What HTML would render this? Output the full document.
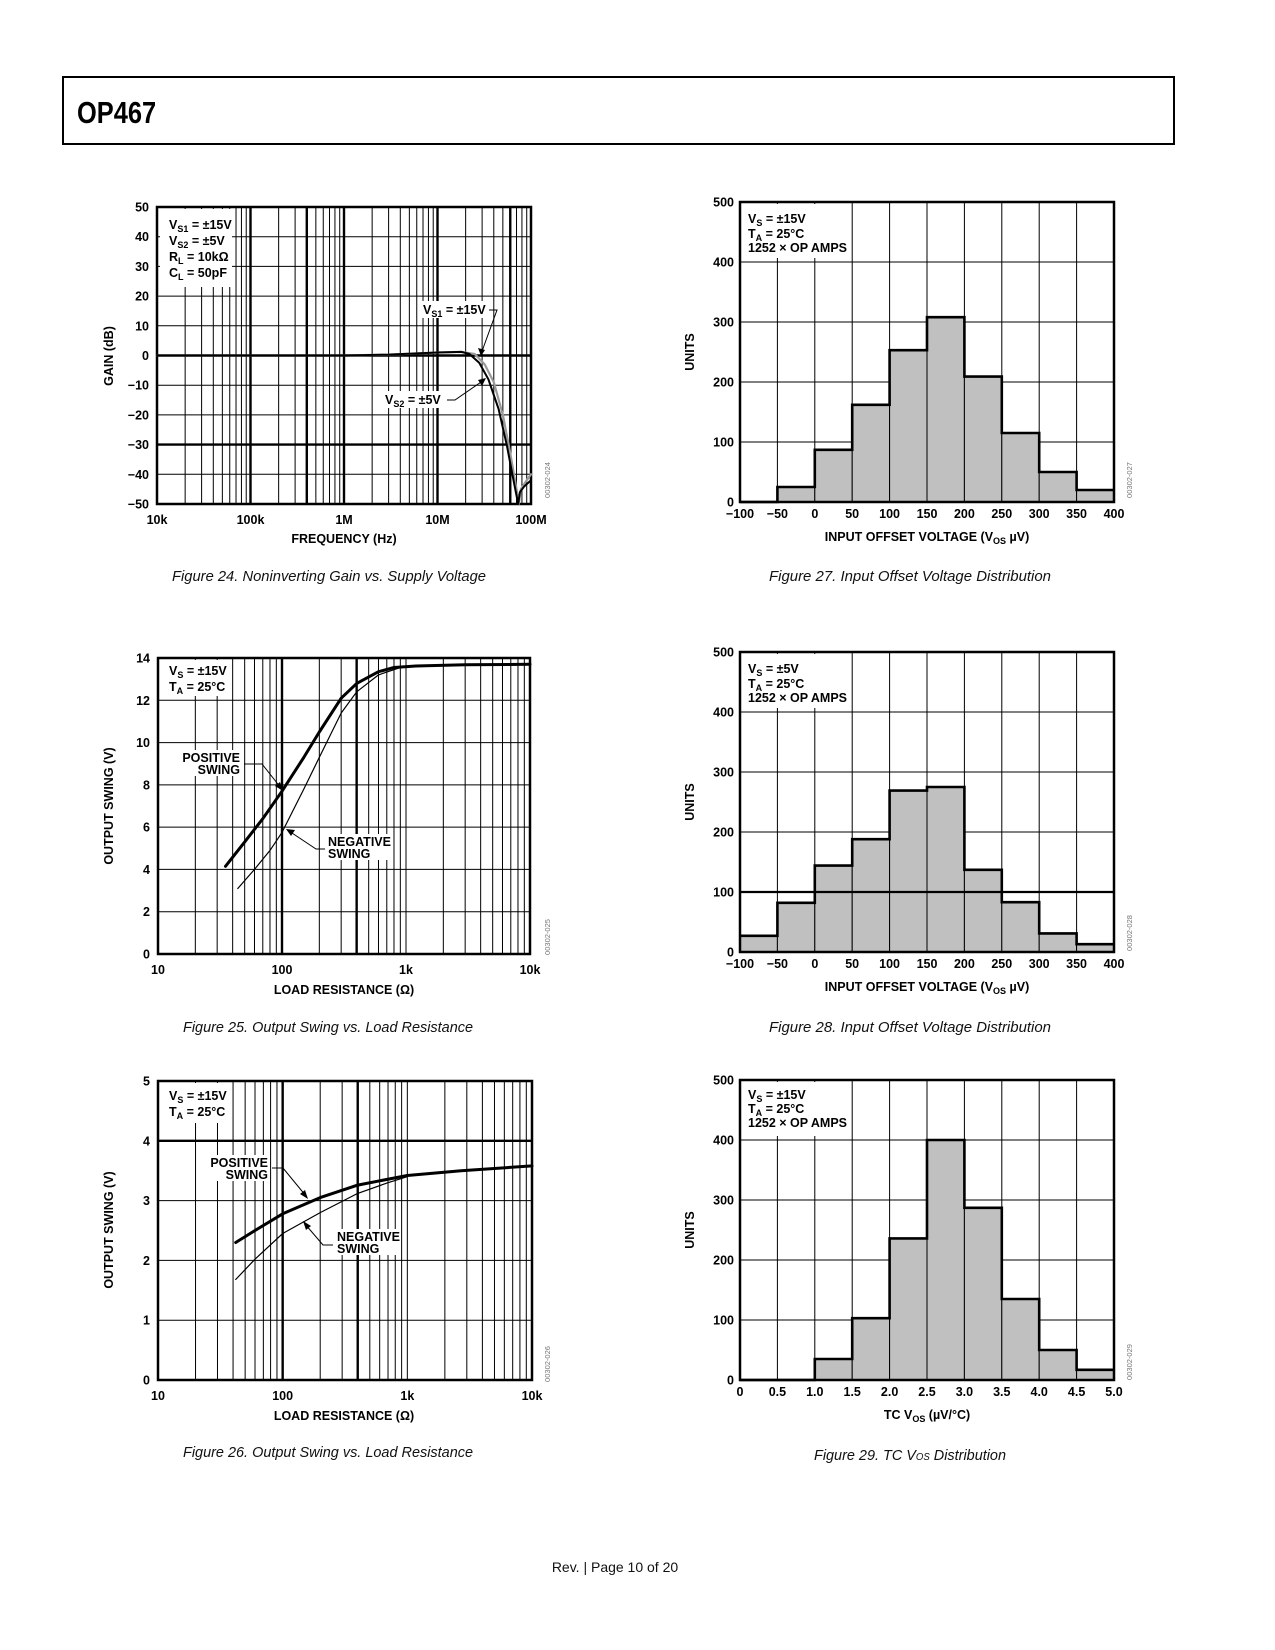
<!DOCTYPE html>
<html><head><meta charset="utf-8"><title>OP467 page 10</title>
<style>
html,body{margin:0;padding:0;background:#fff;}
svg{display:block;font-family:"Liberation Sans",Arial,sans-serif;}
.t{font-weight:bold;font-size:12.5px;fill:#000;}
.cap{font-style:italic;font-size:15px;fill:#111;}
.id{font-size:7.5px;fill:#777;}
</style></head>
<body>
<svg id="page" width="1275" height="1650" viewBox="0 0 1275 1650" xmlns="http://www.w3.org/2000/svg">
<rect x="0" y="0" width="1275" height="1650" fill="#fff"/>
<rect x="63" y="77" width="1111" height="67" fill="none" stroke="#000" stroke-width="2"/>
<text x="77" y="123" font-size="31" font-weight="bold" transform="translate(77 0) scale(0.82 1) translate(-77 0)">OP467</text>

<g id="c1"></g>
<g id="c2"></g>
<g id="c3"></g>
<g id="h1"></g>
<g id="h2"></g>
<g id="h3"></g>

<g id="annot">
  <rect x="160" y="209" width="72" height="78" fill="#fff"/>
  <text class="t" x="169" y="229">V<tspan font-size="9" dy="3">S1</tspan><tspan dy="-3"> = ±15V</tspan></text>
  <text class="t" x="169" y="245">V<tspan font-size="9" dy="3">S2</tspan><tspan dy="-3"> = ±5V</tspan></text>
  <text class="t" x="169" y="261">R<tspan font-size="9" dy="3">L</tspan><tspan dy="-3"> = 10kΩ</tspan></text>
  <text class="t" x="169" y="277">C<tspan font-size="9" dy="3">L</tspan><tspan dy="-3"> = 50pF</tspan></text>
  <rect x="420" y="301" width="67" height="17" fill="#fff"/>
  <text class="t" x="423" y="314">V<tspan font-size="9" dy="3">S1</tspan><tspan dy="-3"> = ±15V</tspan></text>
  <polyline points="489,310 497,310 481,354" fill="none" stroke="#000" stroke-width="1"/>
  <polygon points="481,356 478,348 485,350" fill="#000"/>
  <rect x="382" y="391" width="63" height="17" fill="#fff"/>
  <text class="t" x="385" y="404">V<tspan font-size="9" dy="3">S2</tspan><tspan dy="-3"> = ±5V</tspan></text>
  <polyline points="447,400 455,400 484,380" fill="none" stroke="#000" stroke-width="1"/>
  <polygon points="486,378 478,380 482,386" fill="#000"/>

  <rect x="160" y="660" width="68" height="36" fill="#fff"/>
  <text class="t" x="169" y="675">V<tspan font-size="9" dy="3">S</tspan><tspan dy="-3"> = ±15V</tspan></text>
  <text class="t" x="169" y="691">T<tspan font-size="9" dy="3">A</tspan><tspan dy="-3"> = 25°C</tspan></text>
  <rect x="180" y="750" width="62" height="26" fill="#fff"/>
  <text class="t" x="240" y="762" text-anchor="end">POSITIVE</text>
  <text class="t" x="240" y="774" text-anchor="end">SWING</text>
  <polyline points="244,764 262,764 281,788" fill="none" stroke="#000" stroke-width="1"/>
  <polygon points="283,791 275,786 280,782" fill="#000"/>
  <rect x="327" y="834" width="64" height="26" fill="#fff"/>
  <text class="t" x="328" y="846">NEGATIVE</text>
  <text class="t" x="328" y="858">SWING</text>
  <polyline points="325,849 316,849 289,831" fill="none" stroke="#000" stroke-width="1"/>
  <polygon points="286,829 295,830 291,836" fill="#000"/>

  <rect x="160" y="1083" width="68" height="40" fill="#fff"/>
  <text class="t" x="169" y="1100">V<tspan font-size="9" dy="3">S</tspan><tspan dy="-3"> = ±15V</tspan></text>
  <text class="t" x="169" y="1116">T<tspan font-size="9" dy="3">A</tspan><tspan dy="-3"> = 25°C</tspan></text>
  <rect x="208" y="1155" width="62" height="26" fill="#fff"/>
  <text class="t" x="268" y="1167" text-anchor="end">POSITIVE</text>
  <text class="t" x="268" y="1179" text-anchor="end">SWING</text>
  <polyline points="272,1168 283,1168 306,1196" fill="none" stroke="#000" stroke-width="1"/>
  <polygon points="308,1199 300,1194 305,1190" fill="#000"/>
  <rect x="336" y="1229" width="64" height="26" fill="#fff"/>
  <text class="t" x="337" y="1241">NEGATIVE</text>
  <text class="t" x="337" y="1253">SWING</text>
  <polyline points="333,1245 323,1245 305,1224" fill="none" stroke="#000" stroke-width="1"/>
  <polygon points="303,1221 311,1226 306,1230" fill="#000"/>

  <rect x="742" y="204" width="108" height="54" fill="#fff"/>
  <text class="t" x="748" y="223">V<tspan font-size="9" dy="3">S</tspan><tspan dy="-3"> = ±15V</tspan></text>
  <text class="t" x="748" y="238">T<tspan font-size="9" dy="3">A</tspan><tspan dy="-3"> = 25°C</tspan></text>
  <text class="t" x="748" y="252">1252 × OP AMPS</text>
  <rect x="742" y="654" width="108" height="54" fill="#fff"/>
  <text class="t" x="748" y="673">V<tspan font-size="9" dy="3">S</tspan><tspan dy="-3"> = ±5V</tspan></text>
  <text class="t" x="748" y="688">T<tspan font-size="9" dy="3">A</tspan><tspan dy="-3"> = 25°C</tspan></text>
  <text class="t" x="748" y="702">1252 × OP AMPS</text>
  <rect x="742" y="1082" width="108" height="54" fill="#fff"/>
  <text class="t" x="748" y="1099">V<tspan font-size="9" dy="3">S</tspan><tspan dy="-3"> = ±15V</tspan></text>
  <text class="t" x="748" y="1113">T<tspan font-size="9" dy="3">A</tspan><tspan dy="-3"> = 25°C</tspan></text>
  <text class="t" x="748" y="1127">1252 × OP AMPS</text>

  <text class="t" x="344" y="543" text-anchor="middle">FREQUENCY (Hz)</text>
  <text class="t" transform="translate(113 356) rotate(-90)" text-anchor="middle">GAIN (dB)</text>
  <text class="t" x="344" y="994" text-anchor="middle">LOAD RESISTANCE (Ω)</text>
  <text class="t" transform="translate(113 806) rotate(-90)" text-anchor="middle">OUTPUT SWING (V)</text>
  <text class="t" x="344" y="1420" text-anchor="middle">LOAD RESISTANCE (Ω)</text>
  <text class="t" transform="translate(113 1230) rotate(-90)" text-anchor="middle">OUTPUT SWING (V)</text>
  <text class="t" x="927" y="541" text-anchor="middle">INPUT OFFSET VOLTAGE (V<tspan font-size="9" dy="3">OS</tspan><tspan dy="-3"> µV)</tspan></text>
  <text class="t" transform="translate(694 352) rotate(-90)" text-anchor="middle">UNITS</text>
  <text class="t" x="927" y="991" text-anchor="middle">INPUT OFFSET VOLTAGE (V<tspan font-size="9" dy="3">OS</tspan><tspan dy="-3"> µV)</tspan></text>
  <text class="t" transform="translate(694 802) rotate(-90)" text-anchor="middle">UNITS</text>
  <text class="t" x="927" y="1419" text-anchor="middle">TC V<tspan font-size="9" dy="3">OS</tspan><tspan dy="-3"> (µV/°C)</tspan></text>
  <text class="t" transform="translate(694 1230) rotate(-90)" text-anchor="middle">UNITS</text>

  <text class="id" transform="translate(550 480) rotate(-90)" text-anchor="middle">00302-024</text>
  <text class="id" transform="translate(550 937) rotate(-90)" text-anchor="middle">00302-025</text>
  <text class="id" transform="translate(550 1364) rotate(-90)" text-anchor="middle">00302-026</text>
  <text class="id" transform="translate(1132 480) rotate(-90)" text-anchor="middle">00302-027</text>
  <text class="id" transform="translate(1132 933) rotate(-90)" text-anchor="middle">00302-028</text>
  <text class="id" transform="translate(1132 1362) rotate(-90)" text-anchor="middle">00302-029</text>

  <text class="cap" x="329" y="581" text-anchor="middle" textLength="314" lengthAdjust="spacingAndGlyphs">Figure 24. Noninverting Gain vs. Supply Voltage</text>
  <text class="cap" x="910" y="581" text-anchor="middle" textLength="282" lengthAdjust="spacingAndGlyphs">Figure 27. Input Offset Voltage Distribution</text>
  <text class="cap" x="328" y="1032" text-anchor="middle" textLength="290" lengthAdjust="spacingAndGlyphs">Figure 25. Output Swing vs. Load Resistance</text>
  <text class="cap" x="910" y="1032" text-anchor="middle" textLength="282" lengthAdjust="spacingAndGlyphs">Figure 28. Input Offset Voltage Distribution</text>
  <text class="cap" x="328" y="1457" text-anchor="middle" textLength="290" lengthAdjust="spacingAndGlyphs">Figure 26. Output Swing vs. Load Resistance</text>
  <text class="cap" x="910" y="1460" text-anchor="middle" textLength="192" lengthAdjust="spacingAndGlyphs">Figure 29. TC V<tspan font-size="10">OS</tspan> Distribution</text>
  <text x="615" y="1572" font-size="14" text-anchor="middle" fill="#111">Rev.  | Page 10 of 20</text>
</g>
</svg>
<script>
// ---- Figure 24 data ----
const gainFreqVs2 = [1e4, 1e6, 3e6, 1e7, 1.8e7, 2.2e7, 2.8e7, 3.5e7, 4.5e7, 5.5e7, 6.5e7, 7.3e7, 7.6e7, 8.5e7, 1e8];
const gainDbVs2   = [0, 0, 0.3, 1, 1.2, 0.5, -2.5, -8, -18, -30, -42, -50, -46, -44, -42];
const gainFreqVs1 = [1e4, 1e6, 3e6, 1e7, 1.8e7, 2.5e7, 3.2e7, 4e7, 5e7, 6e7, 7e7, 7.4e7, 7.8e7, 9e7, 1e8];
const gainDbVs1   = [0, 0, 0.3, 1, 1.2, 0.5, -3, -9, -20, -33, -45, -50, -45, -42, -40];
const gainYTicks = [50, 40, 30, 20, 10, 0, -10, -20, -30, -40, -50];
const gainXTickLabels = ['10k', '100k', '1M', '10M', '100M'];
// ---- Figure 25 data ----
const swing15PosR = [35, 50, 70, 100, 150, 200, 300, 400, 600, 800, 1200, 3000, 10000];
const swing15PosV = [4.15, 5.3, 6.4, 7.7, 9.3, 10.5, 12.1, 12.8, 13.35, 13.55, 13.62, 13.68, 13.7];
const swing15NegR = [44, 60, 80, 100, 150, 200, 300, 400, 600, 900, 1200];
const swing15NegV = [3.1, 4.0, 4.9, 5.75, 7.8, 9.3, 11.4, 12.4, 13.2, 13.55, 13.62];
const swing15YTicks = [0, 2, 4, 6, 8, 10, 12, 14];
// ---- Figure 26 data ----
const swing5PosR = [42, 60, 100, 200, 400, 1000, 2700, 10000];
const swing5PosV = [2.3, 2.5, 2.78, 3.05, 3.26, 3.42, 3.5, 3.58];
const swing5NegR = [42, 60, 100, 200, 400, 700, 1000];
const swing5NegV = [1.68, 2.02, 2.45, 2.8, 3.12, 3.3, 3.4];
const swing5YTicks = [0, 1, 2, 3, 4, 5];
const resXTickLabels = ['10', '100', '1k', '10k'];
// ---- Histograms ----
const vosBinEdges = [-100, -50, 0, 50, 100, 150, 200, 250, 300, 350, 400];
const vos15Counts = [0, 25, 87, 162, 253, 308, 209, 115, 50, 20];
const vos5Counts  = [27, 82, 144, 188, 269, 275, 137, 83, 31, 13];
const tcBinEdges = [0, 0.5, 1.0, 1.5, 2.0, 2.5, 3.0, 3.5, 4.0, 4.5, 5.0];
const tcCounts = [0, 0, 35, 103, 236, 400, 287, 135, 50, 17];
const vosXTickLabels = ['\u2212100', '\u221250', '0', '50', '100', '150', '200', '250', '300', '350', '400'];
const tcXTickLabels = ['0', '0.5', '1.0', '1.5', '2.0', '2.5', '3.0', '3.5', '4.0', '4.5', '5.0'];
const unitsYTicks = [0, 100, 200, 300, 400, 500];

const NS = 'http://www.w3.org/2000/svg';
function mk(tag, attrs, name, parent) {
  const el = document.createElementNS(NS, tag);
  for (const k in attrs) el.setAttribute(k, attrs[k]);
  
  
  parent.appendChild(el);
  return el;
}
function txt(x, y, s, anchor, name, parent) {
  const el = mk('text', {x: x, y: y, 'text-anchor': anchor, class: 't'}, name, parent);
  el.textContent = s;
  return el;
}
function fmtNeg(v) { return v < 0 ? '\u2212' + Math.abs(v) : String(v); }

function logChart(id, P, dec0, ndec, ymin, ymax, yticks, thickX, thickY, xlabels, prefix) {
  const g = document.getElementById(id);
  const xs = v => P.L + (Math.log10(v) - dec0) / ndec * (P.R - P.L);
  const ys = v => P.B - (v - ymin) / (ymax - ymin) * (P.B - P.T);
  for (let d = 0; d < ndec; d++) {
    for (let m = 1; m <= 9; m++) {
      const v = Math.pow(10, dec0 + d) * m;
      const thick = thickX.some(t => Math.abs(t / v - 1) < 1e-6);
      mk('line', {x1: xs(v), x2: xs(v), y1: P.T, y2: P.B, stroke: '#000', 'stroke-width': thick ? 2.4 : 1}, prefix + '-x-gridline', g);
    }
  }
  yticks.forEach(v => {
    const thick = thickY.indexOf(v) >= 0;
    mk('line', {x1: P.L, x2: P.R, y1: ys(v), y2: ys(v), stroke: '#000', 'stroke-width': thick ? 2.4 : 1}, prefix + '-y-gridline', g);
    txt(P.L - 8, ys(v) + 4.5, fmtNeg(v), 'end', prefix + '-y-tick-label', g);
  });
  xlabels.forEach((s, i) => {
    txt(xs(Math.pow(10, dec0 + i)), P.B + 20, s, 'middle', prefix + '-x-tick-label', g);
  });
  mk('rect', {x: P.L, y: P.T, width: P.R - P.L, height: P.B - P.T, fill: 'none', stroke: '#000', 'stroke-width': 2.5}, prefix + '-plot-frame', g);
  return {g: g, xs: xs, ys: ys};
}
function curve(ax, X, Y, color, w, name) {
  let d = '';
  X.forEach((x, i) => { d += (i ? 'L' : 'M') + ax.xs(x).toFixed(1) + ',' + ax.ys(Y[i]).toFixed(1); });
  mk('path', {d: d, fill: 'none', stroke: color, 'stroke-width': w, 'stroke-linejoin': 'round', 'stroke-linecap': 'round'}, name, ax.g);
}

const a1 = logChart('c1', {L: 157, R: 531, T: 207, B: 504}, 4, 4, -50, 50, gainYTicks, [1e5, 4e5, 1e6, 1e7, 6e7], [0, -30], gainXTickLabels, 'fig24');
curve(a1, gainFreqVs1, gainDbVs1, '#9a9a9a', 2.2, 'vs1-15v-gain-curve');
curve(a1, gainFreqVs2, gainDbVs2, '#000', 2, 'vs2-5v-gain-curve');

const a2 = logChart('c2', {L: 158, R: 530, T: 658, B: 954}, 1, 3, 0, 14, swing15YTicks, [100, 400], [], resXTickLabels, 'fig25');
curve(a2, swing15NegR, swing15NegV, '#000', 1.2, 'negative-swing-curve');
curve(a2, swing15PosR, swing15PosV, '#000', 3, 'positive-swing-curve');

const a3 = logChart('c3', {L: 158, R: 532, T: 1081, B: 1380}, 1, 3, 0, 5, swing5YTicks, [100, 400], [4], resXTickLabels, 'fig26');
curve(a3, swing5NegR, swing5NegV, '#000', 1.2, 'negative-swing-curve');
curve(a3, swing5PosR, swing5PosV, '#000', 3, 'positive-swing-curve');

function hist(id, P, edges, counts, xlabels, thickY, prefix) {
  const g = document.getElementById(id);
  const x0 = edges[0], x1 = edges[edges.length - 1];
  const xs = v => P.L + (v - x0) / (x1 - x0) * (P.R - P.L);
  const ys = v => P.B - v / 500 * (P.B - P.T);
  unitsYTicks.forEach(v => {
    mk('line', {x1: P.L, x2: P.R, y1: ys(v), y2: ys(v), stroke: '#000', 'stroke-width': 1}, prefix + '-y-gridline', g);
    txt(P.L - 6, ys(v) + 4.5, String(v), 'end', prefix + '-y-tick-label', g);
  });
  edges.forEach((v, i) => {
    mk('line', {x1: xs(v), x2: xs(v), y1: P.T, y2: P.B, stroke: '#000', 'stroke-width': 1}, prefix + '-x-gridline', g);
    txt(xs(v), P.B + 16, xlabels[i], 'middle', prefix + '-x-tick-label', g);
  });
  counts.forEach((c, i) => {
    if (c <= 0) return;
    mk('rect', {x: xs(edges[i]), y: ys(c), width: xs(edges[i + 1]) - xs(edges[i]), height: ys(0) - ys(c), fill: '#c0c0c0', stroke: '#000', 'stroke-width': 1}, prefix + '-bar', g);
  });
  thickY.forEach(v => {
    mk('line', {x1: P.L, x2: P.R, y1: ys(v), y2: ys(v), stroke: '#000', 'stroke-width': 2.2}, prefix + '-thick-gridline', g);
  });
  let d = 'M' + xs(edges[0]) + ',' + ys(counts[0]);
  counts.forEach((c, i) => {
    d += 'L' + xs(edges[i]) + ',' + ys(c) + 'L' + xs(edges[i + 1]) + ',' + ys(c);
  });
  mk('path', {d: d, fill: 'none', stroke: '#000', 'stroke-width': 2.6}, prefix + '-histogram-outline', g);
  mk('rect', {x: P.L, y: P.T, width: P.R - P.L, height: P.B - P.T, fill: 'none', stroke: '#000', 'stroke-width': 2.5}, prefix + '-plot-frame', g);
}
hist('h1', {L: 740, R: 1114, T: 202, B: 502}, vosBinEdges, vos15Counts, vosXTickLabels, [], 'fig27');
hist('h2', {L: 740, R: 1114, T: 652, B: 952}, vosBinEdges, vos5Counts, vosXTickLabels, [100], 'fig28');
hist('h3', {L: 740, R: 1114, T: 1080, B: 1380}, tcBinEdges, tcCounts, tcXTickLabels, [], 'fig29');

const page = document.getElementById('page');
page.appendChild(document.getElementById('annot'));
</script>
</body></html>
